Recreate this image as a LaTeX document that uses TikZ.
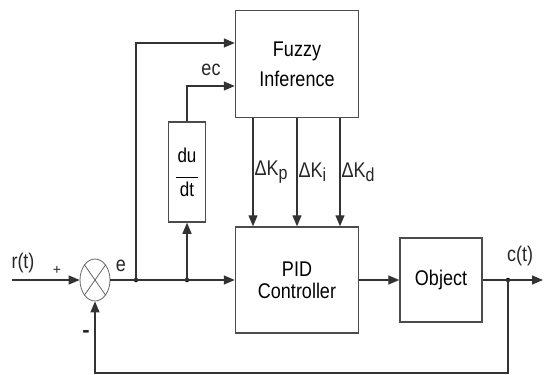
\documentclass[tikz,border=0pt]{standalone}
\usepackage{fontspec}
\usepackage{graphicx}
\setmainfont{Liberation Sans}
\usetikzlibrary{arrows.meta,shapes.geometric}

\newcommand\tall[1]{\scalebox{1}[1.18]{#1}}

\tikzset{
  blk/.style={draw=black!70,line width=1.5pt,fill=white,align=center,inner sep=0pt},
  sig/.style={draw=black!80,line width=1.3pt,-{Triangle[length=11pt,width=9pt]}},
  wire/.style={draw=black!80,line width=1.3pt},
  jdot/.style={circle,fill=black,inner sep=0pt,minimum size=4.5pt},
  lbl/.style={inner sep=1pt,text=black!85}
}

\begin{document}
\begin{tikzpicture}[x=1pt,y=-1pt,font=\fontsize{18}{21}\selectfont]
    \useasboundingbox (0,0) rectangle (544,375);
    % blocks
    \node[blk,minimum width=123pt,minimum height=107pt,font=\fontsize{18}{30}\selectfont] (fuzzy) at (297,64) {\tall{Fuzzy}\\\tall{Inference}};
    \node[blk,minimum width=123pt,minimum height=106pt,font=\fontsize{18}{22}\selectfont] (pid) at (297,280) {\tall{PID}\\\tall{Controller}};
    \node[blk,minimum width=82pt,minimum height=84pt] (obj) at (441,280) {\tall{Object}};
    \node[blk,minimum width=37pt,minimum height=100pt,font=\fontsize{17}{19}\selectfont] (deriv) at (187,172)
        {\tall{du}\\[-3pt]\rule{22pt}{1.6pt}\\[-1pt]\tall{dt}};
    \node[ellipse,draw=black!60,line width=0.8pt,minimum width=30pt,minimum height=42pt,inner sep=0pt] (sum) at (95,280) {};
    \draw[black!60,line width=0.8pt] (sum.55) -- (sum.235) (sum.125) -- (sum.305);

    % junctions and free ends
    \coordinate (rin) at (12,280);
    \coordinate (cout) at (543,280);
    \coordinate (fb) at (508,373);
    \node[jdot] (j1) at (136,280) {};
    \node[jdot] (j2) at (187,280) {};
    \node[jdot] (j3) at (508,280) {};

    % signals
    \draw[sig] (rin) -- (sum);
    \draw[sig] (sum) -- (pid);
    \draw[sig] (j1.center) |- ([yshift=21pt]fuzzy.west);
    \draw[sig] (j2.center) -- (deriv);
    \draw[sig] (deriv) |- ([yshift=-22pt]fuzzy.west);
    \foreach \dx/\k in {-44/p,0/i,43/d}{
        \draw[sig] ([xshift=\dx pt]fuzzy.south) -- ([xshift=\dx pt]pid.north)
            node[midway,right,lbl] {\tall{ΔK\raisebox{-4pt}{\fontsize{16}{16}\selectfont\k}}};
    }
    \draw[sig] (pid) -- (obj);
    \draw[sig] (obj) -- (cout);
    \draw[sig] (j3.center) -- (fb) -| (sum);

    % labels
    \node[lbl] (rlab) at (23,263) {\tall{r(t)}};
    \node[lbl,font=\fontsize{14}{14}\selectfont] (plus) at (57,270) {+};
    \node[lbl,font=\fontsize{22}{22}\selectfont\bfseries] (minus) at (86,334) {-};
    \node[lbl] (elab) at (121,266) {\tall{e}};
    \node[lbl] (eclab) at (211,70) {\tall{ec}};
    \node[lbl] (clab) at (520,256) {\tall{c(t)}};
\end{tikzpicture}
\end{document}
